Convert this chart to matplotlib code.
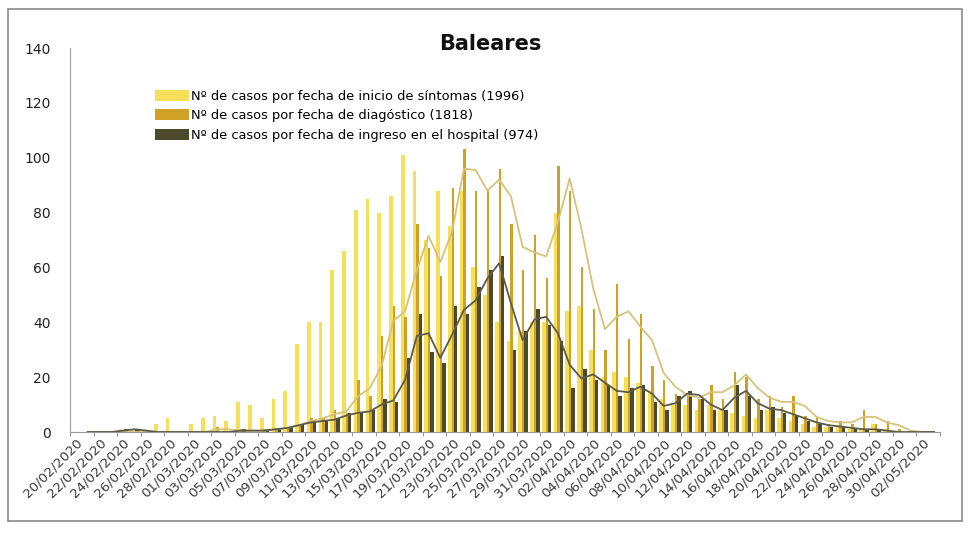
import numpy as np
import pandas as pd
import matplotlib
matplotlib.use("Agg")
import matplotlib.pyplot as plt
from matplotlib.patches import Rectangle

# %% data
dates = pd.date_range("2020-02-20", "2020-05-03", freq="D")
labels = [d.strftime("%d/%m/%Y") for d in dates]

sintomas = [0, 0, 0, 0, 1, 1, 0, 3, 5, 0,
            3, 5, 6, 4, 11, 10, 5, 12, 15, 32,
            40, 40, 59, 66, 81, 85, 80, 86, 101, 95,
            70, 88, 75, 88, 60, 50, 40, 33, 37, 40,
            40, 80, 44, 46, 30, 20, 22, 20, 18, 15,
            12, 10, 10, 8, 10, 8, 7, 6, 5, 8,
            5, 4, 3, 2, 2, 2, 1, 1, 3, 1,
            0, 0, 0, 0]

diagnostico = [0, 0, 0, 0, 0, 0, 0, 0, 0, 0,
               0, 0, 2, 0, 1, 0, 1, 1, 2, 3,
               5, 5, 8, 7, 19, 13, 35, 46, 42, 76,
               67, 57, 89, 103, 88, 88, 96, 76, 59, 72,
               56, 97, 88, 60, 45, 30, 54, 34, 43, 24,
               19, 14, 13, 12, 17, 12, 22, 20, 12, 13,
               9, 13, 6, 5, 3, 4, 3, 8, 3, 4,
               1, 0, 0, 0]

hospital = [0, 0, 0, 0, 1, 1, 0, 0, 0, 0,
            0, 0, 0, 0, 1, 0, 1, 1, 2, 3,
            4, 4, 5, 7, 7, 8, 12, 11, 27, 43,
            29, 25, 46, 43, 53, 59, 64, 30, 37, 45,
            39, 33, 16, 23, 19, 17, 13, 16, 17, 11,
            8, 13, 15, 12, 8, 8, 17, 13, 8, 9,
            7, 6, 4, 3, 2, 2, 1, 1, 1, 0,
            0, 0, 0, 0]

series_names = ["Nº de casos por fecha de inicio de síntomas (1996)",
                "Nº de casos por fecha de diagóstico (1818)",
                "Nº de casos por fecha de ingreso en el hospital (974)"]

amarillo = "#F6E05A"
oro = "#CFA227"
oliva = "#4B4A2C"
linea_oro = "#D8C27A"
linea_oliva = "#5B5B4C"

# %% figure
fig = plt.figure(figsize=(9.74, 5.35), dpi=100)
ax = fig.add_axes([70 / 974, 103 / 535, 870 / 974, 384 / 535])

x = np.arange(len(dates))
ax.bar(x - 0.2, sintomas, width=0.32, color=amarillo, zorder=2, label=series_names[0])
ax.bar(x + 0.25, hospital, width=0.38, color=oliva, zorder=3, label=series_names[2])
ax.bar(x + 0.05, diagnostico, width=0.2, color=oro, zorder=4, label=series_names[1])

# moving average trendlines (period 2)
ma_diag = pd.Series(diagnostico).rolling(2).mean()
ma_hosp = pd.Series(hospital).rolling(2).mean()
ax.plot(x, ma_diag, color=linea_oro, lw=1.3, zorder=5)
ax.plot(x, ma_hosp, color=linea_oliva, lw=1.3, zorder=5)

ax.set_xlim(-0.5, len(dates) - 0.5)
ax.set_ylim(0, 140)
ax.set_yticks(range(0, 141, 20))
ax.tick_params(axis="y", length=0, labelsize=10, colors="#222222", pad=14)

ax.set_xticks(np.arange(-0.5, len(dates), 2))
ax.set_xticklabels([])
ax.set_xticks(x[::2], labels[::2], minor=True)
ax.tick_params(axis="x", which="major", length=3, color="#999999")
ax.tick_params(axis="x", which="minor", length=0, labelsize=9.6,
               labelcolor="#3a3a3a", pad=3)
for lab in ax.get_xticklabels(minor=True):
    lab.set_rotation(45)
    lab.set_ha("right")
    lab.set_rotation_mode("anchor")

for side in ["top", "right"]:
    ax.spines[side].set_visible(False)
ax.spines["left"].set_color("#9a9a9a")
ax.spines["bottom"].set_color("#9a9a9a")

handles, labs = ax.get_legend_handles_labels()
order = [0, 2, 1]
leg = ax.legend([handles[i] for i in order], [labs[i] for i in order],
                loc="upper left", bbox_to_anchor=(0.092, 0.905), frameon=False,
                fontsize=9.4, handlelength=2.6, handleheight=0.9,
                handletextpad=0.1, labelspacing=0.5, borderaxespad=0)

fig.text(490 / 974, 1 - 44 / 535, "Baleares", ha="center", va="center",
         fontsize=15, fontweight="bold", color="#111111")

# scanned frame
fig.patches.append(Rectangle((8 / 974, 14 / 535), 954 / 974, 512 / 535,
                             transform=fig.transFigure, fill=False,
                             edgecolor="#8a8a8a", lw=1.2))

plt.savefig("out.png", dpi=100)
